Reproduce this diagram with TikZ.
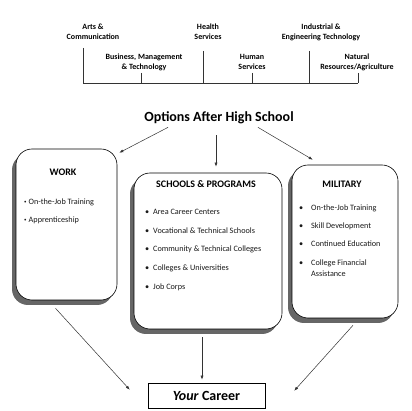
\documentclass[tikz,border=0pt]{standalone}
\usepackage{fontspec}
\setmainfont{Carlito}
\usepackage{tikz}
\usetikzlibrary{arrows.meta,shadows}
\tikzset{
  cluster/.style={font=\bfseries\fontsize{8}{10}\selectfont, align=center, inner sep=0pt},
  clusterline/.style={line width=0.6pt, draw=black!80},
  optbox/.style={draw=black, line width=0.6pt, fill=white, rounded corners=16pt,
    drop shadow={shadow xshift=-4pt, shadow yshift=-5pt, fill=black!60, opacity=1}},
  optitle/.style={font=\bfseries\fontsize{10}{12}\selectfont, inner sep=0pt},
  optitem/.style={anchor=west, font=\fontsize{8.2}{11}\selectfont, text=black!90, inner sep=0pt, align=left},
  flow/.style={-{Latex[length=4pt,width=3pt]}, line width=0.5pt, draw=black!80},
}
\newcommand{\bul}[2]{\makebox[#1][l]{\textbullet}#2}
\newcommand{\smallbul}[1]{\makebox[4.5pt][l]{\raisebox{0.6pt}{\scalebox{0.6}{\textbullet}}}#1}

\begin{document}
\begin{tikzpicture}[x=1pt,y=-1pt]
\useasboundingbox[fill=white] (0,0) rectangle (412,411);
% career clusters
\node[cluster] (arts) at (93,32) {Arts \&\\Communication};
\node[cluster] (health) at (208,32) {Health\\Services};
\node[cluster] (indus) at (321,32) {Industrial \&\\Engineering Technology};
\node[cluster] (busi) at (144,62) {Business, Management\\\& Technology};
\node[cluster] (human) at (252,62) {Human\\Services};
\node[cluster] (natur) at (357,62) {Natural\\Resources/Agriculture};
\draw[clusterline] (83,83) -- (358,83);
\draw[clusterline] (83,48) -- (83,83);
\draw[clusterline] (203,51) -- (203,83);
\draw[clusterline] (309,51) -- (309,83);
\draw[clusterline] (141,73) -- (141,83);
\draw[clusterline] (252,73) -- (252,83);
\draw[clusterline] (358,73) -- (358,83);

\node[font=\bfseries\fontsize{14}{16}\selectfont, inner sep=1pt] (opts) at (219,118) {Options After High School};

% option boxes
\node[optbox, minimum width=101pt, minimum height=151pt] (work) at (66.5,224.5) {};
\node[optbox, minimum width=148pt, minimum height=156pt] (schools) at (208,251) {};
\node[optbox, minimum width=106pt, minimum height=153pt] (military) at (345,241.5) {};

\node[optitle] (worktitle) at (63,172) {WORK};
\node[optitem] (work1) at (24,202) {\smallbul{On-the-Job Training}};
\node[optitem] (work2) at (24,220) {\smallbul{Apprenticeship}};

\node[optitle] (schooltitle) at (206,184) {SCHOOLS \& PROGRAMS};
\node[optitem] (school1) at (145,212) {\bul{8pt}{Area Career Centers}};
\node[optitem] (school2) at (145,231) {\bul{8pt}{Vocational \& Technical Schools}};
\node[optitem] (school3) at (145,249) {\bul{8pt}{Community \& Technical Colleges}};
\node[optitem] (school4) at (145,268) {\bul{8pt}{Colleges \& Universities}};
\node[optitem] (school5) at (145,287) {\bul{8pt}{Job Corps}};

\node[optitle] (miltitle) at (342,184) {MILITARY};
\node[optitem] (mil1) at (299,208) {\bul{12pt}{On-the-Job Training}};
\node[optitem] (mil2) at (299,226) {\bul{12pt}{Skill Development}};
\node[optitem] (mil3) at (299,244) {\bul{12pt}{Continued Education}};
\node[optitem] (mil4) at (299,268.5) {\bul{12pt}{College Financial}\\\hspace*{12pt}Assistance};

\node[draw=black, line width=0.6pt, minimum width=117pt, minimum height=25pt,
  font=\bfseries\fontsize{14}{16}\selectfont] (career) at (206.5,395.5) {\textit{Your} Career};

% arrows
\draw[flow] ([xshift=25pt,yshift=-2pt]opts.south west) -- ([xshift=2pt,yshift=-4pt]work.north east);
\draw[flow] ([xshift=-3pt,yshift=-10pt]opts.south) -- ([xshift=8pt,yshift=6pt]schools.north);
\draw[flow] ([xshift=-37pt,yshift=-2pt]opts.south east) -- ([xshift=21pt,yshift=5pt]military.north west);
\draw[flow] ([xshift=-11pt,yshift=-8pt]work.south) -- ([xshift=-18pt,yshift=-7pt]career.north west);
\draw[flow] ([xshift=-6pt,yshift=-8pt]schools.south) -- ([xshift=-4.5pt,yshift=3pt]career.north);
\draw[flow] ([xshift=8pt,yshift=-7pt]military.south) -- ([xshift=29pt,yshift=-8pt]career.north east);
\end{tikzpicture}
\end{document}
